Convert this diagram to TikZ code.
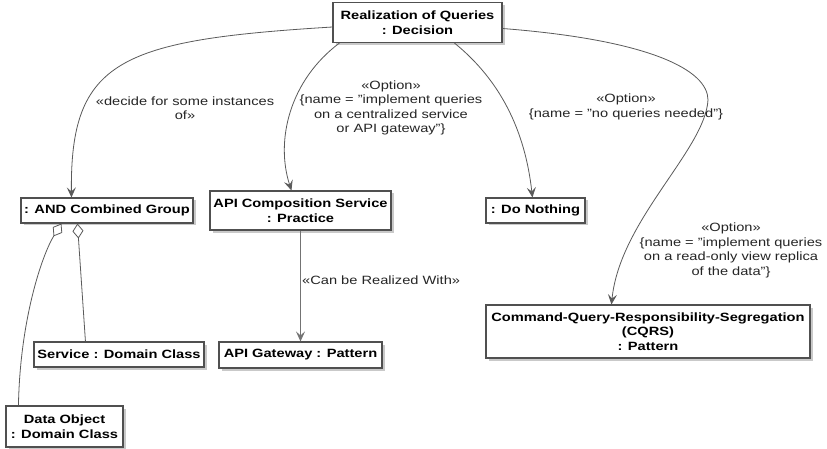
\documentclass[tikz,border=0pt]{standalone}
\usepackage{fontspec}
\setmainfont{Liberation Sans}[FakeStretch=1.22]
\usetikzlibrary{arrows.meta,shadows,calc}
\definecolor{edge}{HTML}{5A5A5A}
\definecolor{boxline}{HTML}{505050}
\begin{document}
\begin{tikzpicture}[x=1pt,y=-1pt,
  box/.style={draw=boxline,line width=1.1pt,fill=white,inner sep=0pt,align=center,
    font=\fontsize{12}{14.5}\selectfont\bfseries,
    drop shadow={shadow xshift=2.5pt,shadow yshift=-2.5pt,opacity=0.35,fill=black!60}},
  lbl/.style={align=center,font=\fontsize{12}{14.5}\selectfont,text=black!85,inner sep=0pt},
  conn/.style={draw=edge,line width=0.8pt,-{Stealth[length=10pt,width=9pt,inset=4pt]}},
  agg/.style={draw=edge,line width=0.8pt,{Diamond[open,fill=white,length=15pt,width=11pt,line width=0.8pt]}-}]
\useasboundingbox (0,0) rectangle (827,449);
\fill[white] (0,0) rectangle (827,449);
% nodes
\node[box,minimum width=169pt,minimum height=40pt] (dec) at (417.5,22.5) {Realization of Queries\\: Decision};
\node[box,minimum width=172pt,minimum height=25pt] (and) at (107,210.5) {: AND Combined Group};
\node[box,minimum width=181pt,minimum height=39pt] (api) at (300.5,210.5) {API Composition Service\\: Practice};
\node[box,minimum width=99pt,minimum height=25pt] (nothing) at (535.5,210.5) {: Do Nothing};
\node[box,minimum width=324pt,minimum height=53pt] (cqrs) at (648,331.5) {Command-Query-Responsibility-Segregation\\(CQRS)\\: Pattern};
\node[box,minimum width=170pt,minimum height=25pt] (svc) at (119,354.5) {Service : Domain Class};
\node[box,minimum width=163pt,minimum height=26pt] (gw) at (300.5,355) {API Gateway : Pattern};
\node[box,minimum width=117pt,minimum height=41pt] (data) at (64.5,426.5) {Data Object\\: Domain Class};
% connectors
\draw[conn] ($(dec.west)+(0,4.5)$) .. controls (120,40) and (70,60) .. ($(and.north west)+(51,0)$);
\draw[conn] ($(dec.south west)+(7,0)$) .. controls (290,80) and (275,140) .. ($(api.north west)+(82,0)$);
\draw[conn] ($(dec.south west)+(122,0)$) .. controls (500,80) and (525,130) .. ($(nothing.north west)+(47,0)$);
\draw[conn] ($(dec.east)+(0,6)$) .. controls (650,40) and (708,70) .. (708,100)
  .. controls (705,150) and (620,220) .. ($(cqrs.north west)+(126,0)$);
\draw[conn,draw=black!55,line width=1pt] (api.south) -- (gw.north);
\draw[agg] ($(and.south west)+(41,0)$) .. controls (42,255) and (20,320) .. ($(data.north west)+(13,0)$);
\draw[agg] ($(and.south west)+(57,0)$) -- ($(svc.north west)+(52,0)$);
% labels
\node[lbl] (l1) at (185,108) {«decide for some instances\\of»};
\node[lbl] (l2) at (391,108) {«Option»\\\{name = "implement queries\\on a centralized service\\or API gateway"\}};
\node[lbl] (l3) at (626,107) {«Option»\\\{name = "no queries needed"\}};
\node[lbl] (l4) at (731,250.5) {«Option»\\\{name = "implement queries\\on a read-only view replica\\of the data"\}};
\node[lbl,anchor=west] (l5) at (302,280) {«Can be Realized With»};
\end{tikzpicture}
\end{document}
